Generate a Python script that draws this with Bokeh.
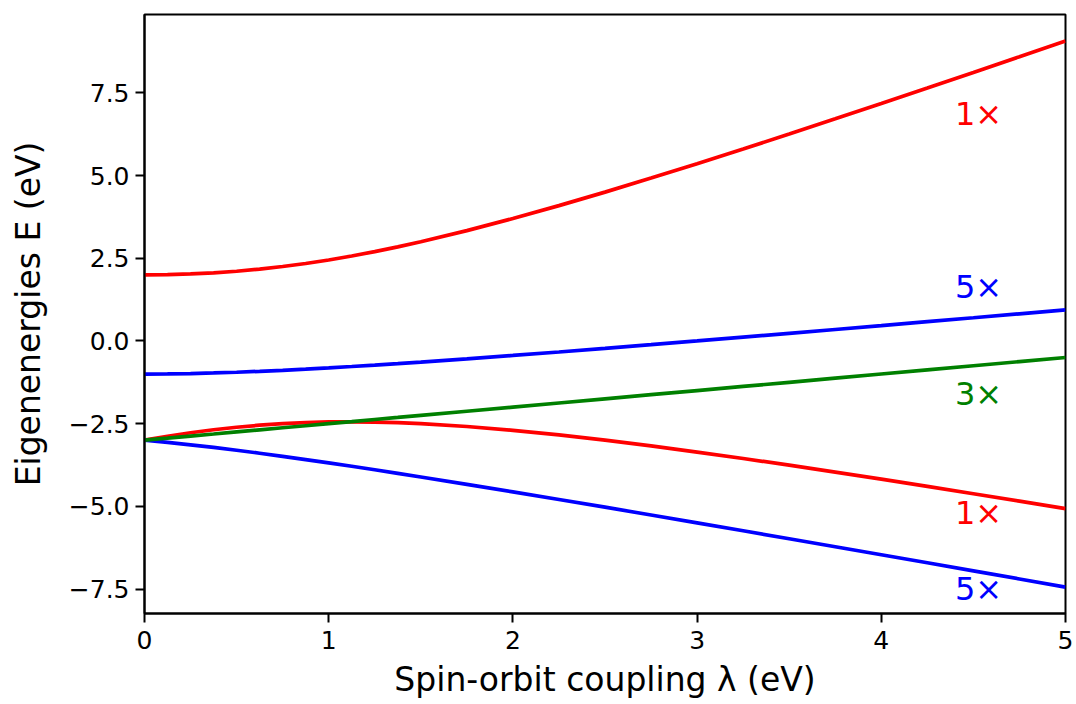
from bokeh.plotting import figure
from bokeh.embed import file_html
from bokeh.resources import INLINE
from bokeh.models import FixedTicker, CustomJSTickFormatter, Range1d, ColumnDataSource
from bokeh.core.properties import value

# spin-orbit coupling lambda (eV)
lam = [0.0, 0.125, 0.25, 0.375, 0.5, 0.625, 0.75, 0.875, 1.0, 1.125, 1.25, 1.375, 1.5,
       1.75, 2.0, 2.25, 2.5, 2.75, 3.0, 3.25, 3.5, 3.75, 4.0, 4.25, 4.5, 4.75, 5.0]
# eigenenergies (eV)
red_hi = [2.000, 2.006, 2.026, 2.060, 2.108, 2.172, 2.250, 2.343, 2.449, 2.570, 2.702, 2.846, 3.000,
          3.336, 3.702, 4.091, 4.500, 4.924, 5.359, 5.804, 6.256, 6.715, 7.179, 7.647, 8.119, 8.594, 9.071]
red_lo = [-3.000, -2.881, -2.776, -2.685, -2.608, -2.547, -2.500, -2.468, -2.449, -2.445, -2.452, -2.471, -2.500,
          -2.586, -2.702, -2.841, -3.000, -3.174, -3.359, -3.554, -3.756, -3.965, -4.179, -4.397, -4.619, -4.844, -5.071]
blue_hi = [-1.000, -0.996, -0.985, -0.968, -0.946, -0.918, -0.887, -0.852, -0.814, -0.773, -0.730, -0.685, -0.638,
           -0.541, -0.438, -0.333, -0.224, -0.113, 0.000, 0.114, 0.230, 0.347, 0.464, 0.582, 0.701, 0.821, 0.941]
blue_lo = [-3.000, -3.066, -3.140, -3.219, -3.304, -3.394, -3.488, -3.586, -3.686, -3.789, -3.895, -4.002, -4.112,
           -4.334, -4.562, -4.792, -5.026, -5.262, -5.500, -5.739, -5.980, -6.222, -6.464, -6.707, -6.951, -7.196, -7.441]
green = [-3.000, -2.938, -2.875, -2.813, -2.750, -2.688, -2.625, -2.563, -2.500, -2.438, -2.375, -2.313, -2.250,
         -2.125, -2.000, -1.875, -1.750, -1.625, -1.500, -1.375, -1.250, -1.125, -1.000, -0.875, -0.750, -0.625, -0.500]

label_text = ["1\u00d7", "5\u00d7", "3\u00d7", "1\u00d7", "5\u00d7"]
label_x = [4.4, 4.4, 4.4, 4.4, 4.4]
label_y = [6.85, 1.62, -1.60, -5.20, -7.50]
label_color = ["#ff0000", "#0000ff", "#008000", "#ff0000", "#0000ff"]

x_ticks = [0, 1, 2, 3, 4, 5]
y_ticks = [-7.5, -5.0, -2.5, 0.0, 2.5, 5.0, 7.5]

FONT = "DejaVu Sans"

p = figure(frame_width=921, frame_height=599,
           min_border_left=144, min_border_right=10, min_border_top=14, min_border_bottom=90,
           output_backend="svg", toolbar_location=None,
           x_range=Range1d(0, 5), y_range=Range1d(-8.24, 9.87))

p.background_fill_color = "white"
p.border_fill_color = "white"
p.outline_line_color = "black"
p.outline_line_width = 2
p.xgrid.visible = False
p.ygrid.visible = False

LW = 3.7
p.line(lam, red_hi, line_color="#ff0000", line_width=LW)
p.line(lam, red_lo, line_color="#ff0000", line_width=LW)
p.line(lam, blue_hi, line_color="#0000ff", line_width=LW)
p.line(lam, blue_lo, line_color="#0000ff", line_width=LW)
p.line(lam, green, line_color="#008000", line_width=LW)

src = ColumnDataSource(dict(x=label_x, y=label_y, t=label_text, c=label_color))
p.text(x="x", y="y", text="t", text_color="c", source=src,
       text_font=value(FONT), text_font_size="32px",
       text_align="left", text_baseline="middle")

for ax in (p.xaxis[0], p.yaxis[0]):
    ax.axis_line_color = "black"
    ax.axis_line_width = 2
    ax.major_tick_line_color = "black"
    ax.major_tick_line_width = 2
    ax.major_tick_out = 9
    ax.major_tick_in = 0
    ax.minor_tick_line_color = None
    ax.major_label_text_font = FONT
    ax.major_label_text_font_size = "25px"
    ax.major_label_text_color = "black"
    ax.axis_label_text_font = FONT
    ax.axis_label_text_font_size = "33px"
    ax.axis_label_text_font_style = "normal"
    ax.axis_label_text_color = "black"

p.xaxis.ticker = FixedTicker(ticks=x_ticks)
p.yaxis.ticker = FixedTicker(ticks=y_ticks)
p.xaxis.formatter = CustomJSTickFormatter(code="return tick.toFixed(0);")
p.yaxis.formatter = CustomJSTickFormatter(code="return tick.toFixed(1).replace('-', '\u2212');")
p.xaxis.axis_label = "Spin-orbit coupling \u03bb (eV)"
p.yaxis.axis_label = "Eigenenergies E (eV)"
p.xaxis.major_label_standoff = 8
p.yaxis.major_label_standoff = 6
p.xaxis.axis_label_standoff = 8
p.yaxis.axis_label_standoff = 18

open("out.html", "w").write(file_html(p, INLINE))
